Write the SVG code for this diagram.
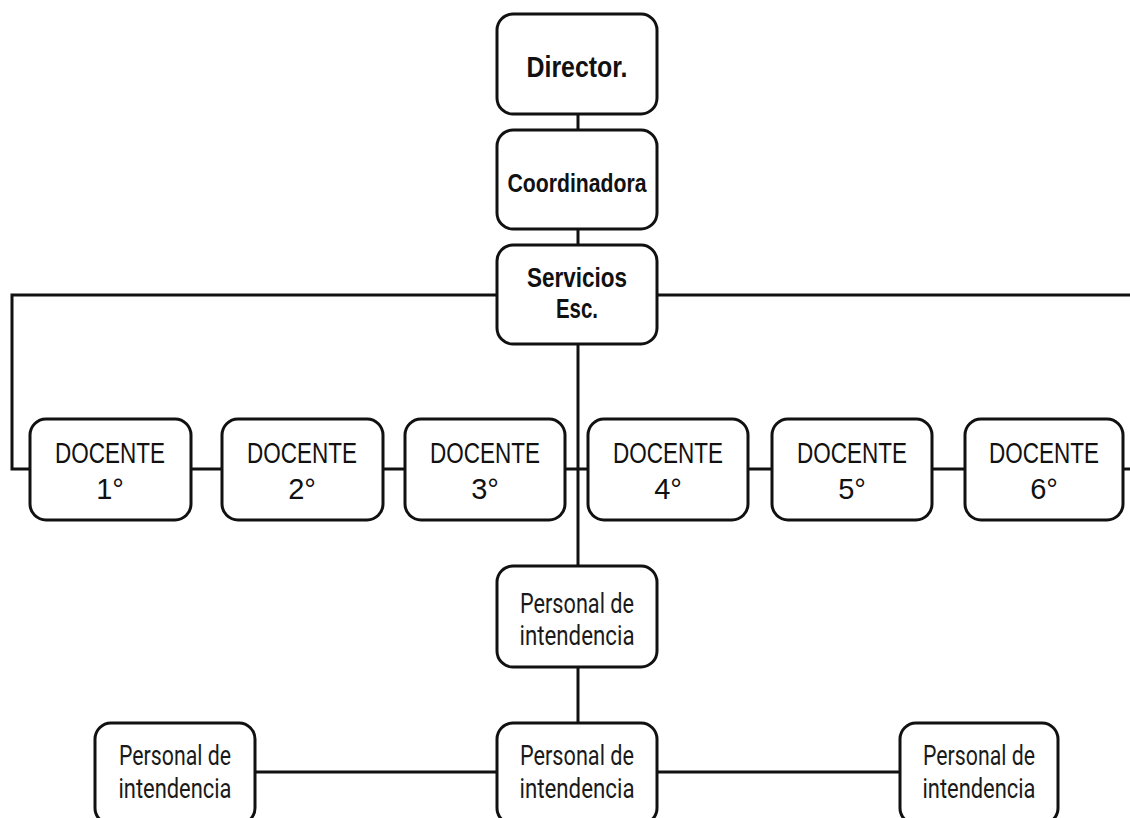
<svg xmlns="http://www.w3.org/2000/svg" width="1130" height="818" viewBox="0 0 1130 818">
<style>
.box{fill:#fff;stroke:#111;stroke-width:3}
.ln{fill:none;stroke:#111;stroke-width:3}
.b{font-family:"Liberation Sans",Arial,sans-serif;font-weight:bold;fill:#111;text-anchor:middle}
.d{font-family:"Liberation Sans",Arial,sans-serif;font-size:29px;fill:#111;text-anchor:middle}
.p{font-family:Roboto,"Liberation Sans",sans-serif;font-size:28px;fill:#1a1a1a;text-anchor:middle}
</style>
<rect width="1130" height="818" fill="#fff"/>
<g id="connectors">
<line class="ln" x1="578" y1="114" x2="578" y2="131"/>
<line class="ln" x1="578" y1="229" x2="578" y2="246"/>
<line class="ln" x1="578" y1="344" x2="578" y2="567"/>
<polyline class="ln" points="497,295 12,295 12,469 30,469"/>
<line class="ln" x1="657" y1="295" x2="1130" y2="295"/>
<line class="ln" x1="191" y1="469" x2="222" y2="469"/>
<line class="ln" x1="383" y1="469" x2="405" y2="469"/>
<line class="ln" x1="565" y1="469" x2="588" y2="469"/>
<line class="ln" x1="748" y1="469" x2="772" y2="469"/>
<line class="ln" x1="932" y1="469" x2="965" y2="469"/>
<line class="ln" x1="1123" y1="469" x2="1130" y2="469"/>
<line class="ln" x1="578" y1="667" x2="578" y2="723"/>
<line class="ln" x1="255" y1="772" x2="497" y2="772"/>
<line class="ln" x1="657" y1="772" x2="900" y2="772"/>
</g>
<g id="director"><rect class="box" x="497" y="14" width="160" height="100" rx="16"/><text class="b" x="577" y="77" font-size="30" textLength="101" lengthAdjust="spacingAndGlyphs">Director.</text></g>
<g id="coordinadora"><rect class="box" x="497" y="130" width="160" height="99" rx="16"/><text class="b" x="577" y="192" font-size="26" textLength="139" lengthAdjust="spacingAndGlyphs">Coordinadora</text></g>
<g id="servicios"><rect class="box" x="497" y="245" width="160" height="99" rx="16"/><text class="b" x="577" y="287" font-size="27" textLength="100" lengthAdjust="spacingAndGlyphs">Servicios</text><text class="b" x="577" y="318" font-size="27" textLength="42" lengthAdjust="spacingAndGlyphs">Esc.</text></g>
<g id="docente1"><rect class="box" x="30" y="419" width="161" height="101" rx="16"/><text class="d" x="110" y="463" textLength="110" lengthAdjust="spacingAndGlyphs">DOCENTE</text><text class="d" x="110" y="499">1°</text></g>
<g id="docente2"><rect class="box" x="222" y="419" width="161" height="101" rx="16"/><text class="d" x="302" y="463" textLength="110" lengthAdjust="spacingAndGlyphs">DOCENTE</text><text class="d" x="302" y="499">2°</text></g>
<g id="docente3"><rect class="box" x="405" y="419" width="160" height="101" rx="16"/><text class="d" x="485" y="463" textLength="110" lengthAdjust="spacingAndGlyphs">DOCENTE</text><text class="d" x="485" y="499">3°</text></g>
<g id="docente4"><rect class="box" x="588" y="419" width="160" height="101" rx="16"/><text class="d" x="668" y="463" textLength="110" lengthAdjust="spacingAndGlyphs">DOCENTE</text><text class="d" x="668" y="499">4°</text></g>
<g id="docente5"><rect class="box" x="772" y="419" width="160" height="101" rx="16"/><text class="d" x="852" y="463" textLength="110" lengthAdjust="spacingAndGlyphs">DOCENTE</text><text class="d" x="852" y="499">5°</text></g>
<g id="docente6"><rect class="box" x="965" y="419" width="158" height="101" rx="16"/><text class="d" x="1044" y="463" textLength="110" lengthAdjust="spacingAndGlyphs">DOCENTE</text><text class="d" x="1044" y="499">6°</text></g>
<g id="intendencia-top"><rect class="box" x="497" y="566" width="160" height="101" rx="16"/><text class="p" x="577" y="613" textLength="114" lengthAdjust="spacingAndGlyphs">Personal de</text><text class="p" x="577" y="645" textLength="115" lengthAdjust="spacingAndGlyphs">intendencia</text></g>
<g id="intendencia-left"><rect class="box" x="95" y="723" width="160" height="101" rx="16"/><text class="p" x="175" y="765" textLength="112" lengthAdjust="spacingAndGlyphs">Personal de</text><text class="p" x="175" y="798" textLength="113" lengthAdjust="spacingAndGlyphs">intendencia</text></g>
<g id="intendencia-mid"><rect class="box" x="497" y="723" width="160" height="101" rx="16"/><text class="p" x="577" y="765" textLength="114" lengthAdjust="spacingAndGlyphs">Personal de</text><text class="p" x="577" y="798" textLength="115" lengthAdjust="spacingAndGlyphs">intendencia</text></g>
<g id="intendencia-right"><rect class="box" x="900" y="723" width="158" height="101" rx="16"/><text class="p" x="979" y="765" textLength="112" lengthAdjust="spacingAndGlyphs">Personal de</text><text class="p" x="979" y="798" textLength="113" lengthAdjust="spacingAndGlyphs">intendencia</text></g>
</svg>
